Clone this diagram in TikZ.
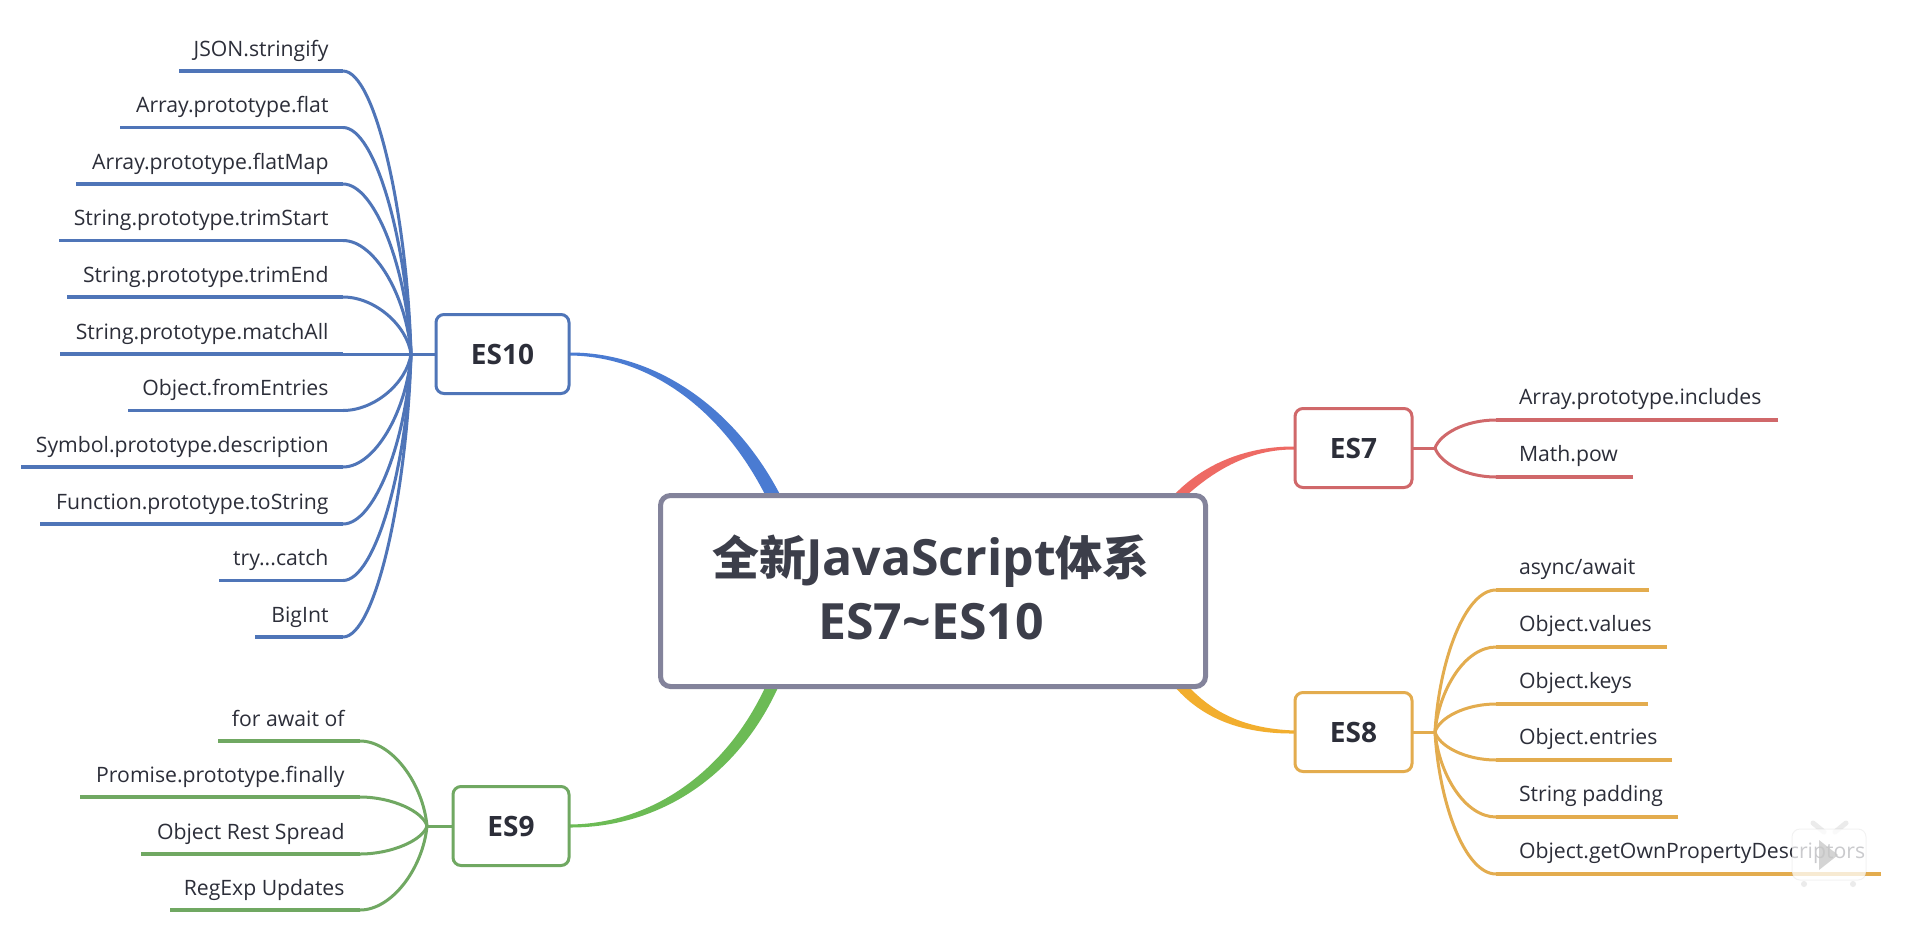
\documentclass[tikz,border=0pt]{standalone}
\usepackage{fontspec}
\setmainfont{Open Sans}
\newfontfamily\cjk{Noto Sans CJK SC}
\usetikzlibrary{backgrounds}
\definecolor{bluel}{HTML}{4F75B8}\definecolor{blueb}{HTML}{4A7BD2}
\definecolor{redl}{HTML}{D0686A}\definecolor{redb}{HTML}{EE6A64}
\definecolor{greenl}{HTML}{70A862}\definecolor{greenb}{HTML}{6CBB55}
\definecolor{yell}{HTML}{E3AC4E}\definecolor{yelb}{HTML}{F2AE2E}
\definecolor{rimc}{HTML}{83839B}\definecolor{inkc}{HTML}{2C2E39}\definecolor{titlec}{HTML}{3C3E4A}
\tikzset{
 x=1pt,y=-1pt,
 subnode/.style={draw,line width=3pt,rounded corners=8pt,fill=white,inner sep=0pt,outer sep=0pt,
   minimum height=79pt,text=inkc,font=\fontsize{28}{32}\selectfont\bfseries},
 rootnode/.style={draw=rimc,line width=5pt,rounded corners=10pt,fill=white,inner sep=0pt,outer sep=0pt,
   minimum width=545pt,minimum height=191pt,text=titlec,font=\fontsize{50}{61}\selectfont\bfseries},
 titletext/.style={inner sep=0pt,outer sep=0pt,text=titlec,anchor=base,font=\fontsize{50}{61}\selectfont\bfseries},
 leaftext/.style={inner sep=0pt,outer sep=0pt,text=inkc,font=\fontsize{21.2}{25}\selectfont},
 leafbar/.style={line width=3.6pt},
 leafcurve/.style={line width=3pt},
 trunk/.style={line width=3pt},
}
\begin{document}
\begin{tikzpicture}
\useasboundingbox (0,0) rectangle (1905,945);
\node[rootnode] (root) at (933,591) {};
\node[titletext] (titleone) at (931,575.5) {{\cjk\fontsize{47}{61}\selectfont 全新}JavaScript{\cjk\fontsize{47}{61}\selectfont 体系}};
\node[titletext] (titletwo) at (931,639.5) {ES7\char`\~ES10};
\node[subnode,draw=bluel,minimum width=133pt] (es10) at (502.5,354) {ES10};
\node[subnode,draw=greenl,minimum width=116pt] (es9) at (511,826) {ES9};
\node[subnode,draw=redl,minimum width=117pt] (es7) at (1353.5,448) {ES7};
\node[subnode,draw=yell,minimum width=117pt] (es8) at (1353.5,732) {ES8};
\coordinate (h10) at (411,354);
\coordinate (h9) at (427,826);
\coordinate (h7) at (1435,448);
\coordinate (h8) at (1435,732);
% left groups
\foreach \n/\t/\ly/\e in {a/JSON.stringify/71/179,b/Array.prototype.flat/127.5/120,c/Array.prototype.flatMap/184/76,
 d/String.prototype.trimStart/240.5/59,e/String.prototype.trimEnd/297/67,f/String.prototype.matchAll/354/60,
 g/Object.fromEntries/410.5/128,h/Symbol.prototype.description/467/21,i/Function.prototype.toString/524/40,
 j/{try...catch}/580.5/219,k/BigInt/637/255}{
 \node[leaftext,anchor=base east] (t\n) at (328.5,\ly-15) {\t};
 \coordinate (e\n) at (\e,\ly);
 \coordinate (b\n) at (343,\ly);
 \pgfmathsetmacro\cy{354+0.5*(\ly-354)}
 \draw[bluel,leafbar] (e\n) -- (b\n);
 \draw[bluel,leafcurve] (b\n) .. controls (375,\ly) and (407,\cy) .. (h10);
}
\foreach \n/\t/\ly/\e in {a/for await of/741/218,b/Promise.prototype.finally/797/80,c/Object Rest Spread/854/141,d/RegExp Updates/910/170}{
 \node[leaftext,anchor=base east] (u\n) at (344.5,\ly-15) {\t};
 \coordinate (v\n) at (\e,\ly);
 \coordinate (w\n) at (360,\ly);
 \pgfmathsetmacro\cy{826+0.5*(\ly-826)}
 \draw[greenl,leafbar] (v\n) -- (w\n);
 \draw[greenl,leafcurve] (w\n) .. controls (392,\ly) and (423,\cy) .. (h9);
}
% right groups
\foreach \n/\t/\ly/\e in {a/Array.prototype.includes/420/1778,b/Math.pow/477/1633}{
 \node[leaftext,anchor=base west] (p\n) at (1519,\ly-16) {\t};
 \coordinate (q\n) at (\e,\ly);
 \coordinate (r\n) at (1496,\ly);
 \pgfmathsetmacro\cy{448+0.5*(\ly-448)}
 \draw[redl,leafbar] (q\n) -- (r\n);
 \draw[redl,leafcurve] (r\n) .. controls (1465,\ly) and (1440,\cy) .. (h7);
}
\foreach \n/\t/\ly/\e in {a/{async/await}/590/1649,b/Object.values/647/1667,c/Object.keys/704/1648,d/Object.entries/760/1672,e/String padding/817/1678,f/Object.getOwnPropertyDescriptors/874/1881}{
 \node[leaftext,anchor=base west] (m\n) at (1519,\ly-16) {\t};
 \coordinate (o\n) at (\e,\ly);
 \coordinate (s\n) at (1496,\ly);
 \pgfmathsetmacro\cy{732+0.5*(\ly-732)}
 \draw[yell,leafbar] (o\n) -- (s\n);
 \draw[yell,leafcurve] (s\n) .. controls (1465,\ly) and (1439,\cy) .. (h8);
}
% trunks
\draw[bluel,trunk] (es10.west) -- (h10);
\draw[greenl,trunk] (es9.west) -- (h9);
\draw[redl,trunk] (es7.east) -- (h7);
\draw[yell,trunk] (es8.east) -- (h8);
% main branches, tapered, behind the boxes
\begin{scope}[on background layer]
\fill[white] (0,0) rectangle (1905,945);
\fill[blueb] ([yshift=1.5pt]es10.east) .. controls (650,352) and (732,402) .. ([xshift=120pt]root.north west)
  -- ([xshift=105pt]root.north west) .. controls (722,410) and (650,356) .. ([yshift=-1.5pt]es10.east) -- cycle;
\fill[greenb] ([yshift=1.5pt]es9.east) .. controls (655,824) and (728,768) .. ([xshift=105pt]root.south west)
  -- ([xshift=118pt]root.south west) .. controls (738,776) and (660,828) .. ([yshift=-1.5pt]es9.east) -- cycle;
\fill[redb] ([yshift=1.5pt]es7.west) .. controls (1250,446) and (1205,462) .. ([xshift=-32pt]root.north east)
  -- ([xshift=-19pt]root.north east) .. controls (1215,470) and (1250,449) .. ([yshift=-1.5pt]es7.west) -- cycle;
\fill[yelb] ([yshift=1.5pt]es8.west) .. controls (1250,729) and (1216,716) .. ([xshift=-17pt]root.south east)
  -- ([xshift=-31pt]root.south east) .. controls (1205,722) and (1248,734) .. ([yshift=-1.5pt]es8.west) -- cycle;
\end{scope}
% player badge
\draw[white!92!black,line width=5pt,line cap=round] (1813,823) -- (1824,832) (1846,823) -- (1835,832);
\fill[white,opacity=.75,rounded corners=8pt] (1792,829) rectangle (1866,880);
\draw[black,opacity=.05,line width=1pt,rounded corners=8pt] (1792,829) rectangle (1866,880);
\fill[white!92!black] (1804,884) circle (3) (1853,884) circle (3);
\fill[gray!45,opacity=.75] (1819,840) -- (1838,855) -- (1819,870) -- cycle;
\end{tikzpicture}
\end{document}
